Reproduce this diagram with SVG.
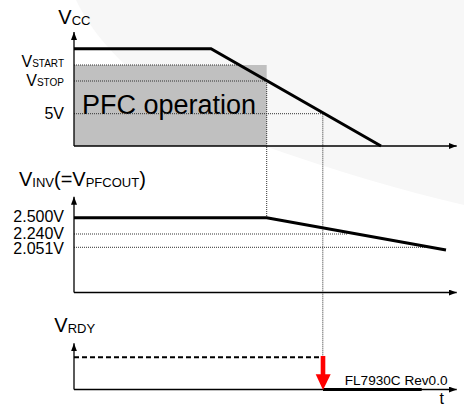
<svg xmlns="http://www.w3.org/2000/svg" width="464" height="404" viewBox="0 0 464 404">
<defs>
<marker id="arr" viewBox="0 0 8 6" refX="8" refY="3" markerWidth="8" markerHeight="6" markerUnits="userSpaceOnUse" orient="auto">
<path d="M0,0 L8,3 L0,6 Z" fill="#000"/>
</marker>
<style>
text{font-family:"Liberation Sans",Arial,sans-serif;fill:#000}
.axis{stroke:#000;stroke-width:1.3;fill:none;marker-end:url(#arr)}
.sig{stroke:#000;stroke-width:3;fill:none;stroke-linejoin:miter}
.dot{stroke:#333;stroke-width:1;stroke-dasharray:1 1;fill:none}
.lbl{font-size:16px}
.big{font-size:20px}
.sub{font-size:13px}
.sm{font-size:10px}
</style>
</defs>
<rect width="464" height="404" fill="#fff"/>
<path d="M76 0 C100 50 160 110 270 148 C340 172 400 190 464 205 L464 0 Z" fill="#f7f7f7"/>

<g id="vcc-chart">
<rect x="74" y="65" width="192.7" height="81" fill="#c0c0c0"/>
<text x="82" y="113.5" style="font-size:27px">PFC operation</text>
<text x="58.3" y="24" class="big">V<tspan class="sub" dy="1">CC</tspan></text>
<text x="64" y="66.5" class="lbl" text-anchor="end">V<tspan class="sm">START</tspan></text>
<text x="64" y="86" class="lbl" text-anchor="end">V<tspan class="sm">STOP</tspan></text>
<text x="64" y="119" class="lbl" text-anchor="end">5V</text>
</g>

<g id="inv-chart">
<text x="19" y="186" class="big">V<tspan class="sub" dy="1">INV</tspan><tspan dy="-1">(=V</tspan><tspan class="sub" dy="1">PFCOUT</tspan><tspan dy="-1">)</tspan></text>
<text x="64" y="222" class="lbl" text-anchor="end">2.500V</text>
<text x="64" y="238.5" class="lbl" text-anchor="end">2.240V</text>
<text x="64" y="254" class="lbl" text-anchor="end">2.051V</text>
</g>

<g id="rdy-chart">
<text x="54.3" y="332.3" class="big">V<tspan class="sub" dy="1">RDY</tspan></text>
<text x="447.5" y="385" text-anchor="end" style="font-size:13.6px">FL7930C Rev0.0</text>
<text x="441.7" y="403.5" text-anchor="middle" class="lbl">t</text>
</g>

<g id="connectors">
<line class="dot" x1="74" y1="65" x2="240" y2="65"/>
<line class="dot" x1="74" y1="81" x2="267" y2="81"/>
<line class="dot" x1="74" y1="113.7" x2="323" y2="113.7"/>
<line class="dot" x1="266.7" y1="81" x2="266.7" y2="217.7"/>
<line class="dot" x1="322.8" y1="113.7" x2="322.8" y2="357"/>
<line class="dot" x1="74" y1="234" x2="348" y2="234"/>
<line class="dot" x1="74" y1="247.3" x2="425" y2="247.3"/>
<path class="axis" d="M74 146 L74 32"/>
<path class="axis" d="M74 146 L456.7 146"/>
<path class="axis" d="M74 292.5 L74 196.7"/>
<path class="axis" d="M74 292.5 L456.7 292.5"/>
<path class="axis" d="M74 389.5 L74 343.3"/>
<path class="axis" d="M74 389.5 L456.7 389.5"/>
<polyline class="sig" points="74,48.8 211,48.8 381,146"/>
<polyline class="sig" points="74,217.7 266.7,217.7 446,250"/>
<line x1="74" y1="357.3" x2="321" y2="357.3" stroke="#000" stroke-width="2" stroke-dasharray="5 3"/>
<line x1="323" y1="389.5" x2="421.7" y2="389.5" stroke="#000" stroke-width="3"/>
<rect x="320.7" y="356" width="4.6" height="19" fill="#ff0000"/>
<path d="M315.7 374.3 L330.7 374.3 L323 390 Z" fill="#ff0000"/>
</g>
</svg>
